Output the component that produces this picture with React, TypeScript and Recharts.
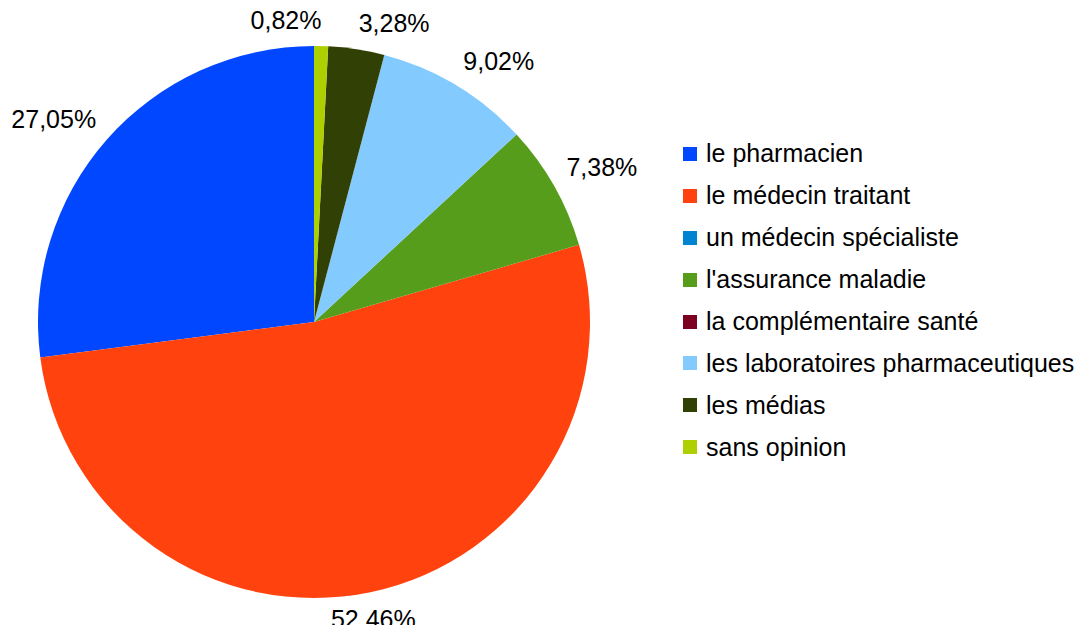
import React from "react";
import { PieChart, Pie, Cell, Legend } from "recharts";

const categories = [
  "le pharmacien",
  "le médecin traitant",
  "un médecin spécialiste",
  "l'assurance maladie",
  "la complémentaire santé",
  "les laboratoires pharmaceutiques",
  "les médias",
  "sans opinion",
];
const counts = [33, 64, 0, 9, 0, 11, 4, 1];
const colors = [
  "#0047ff",
  "#ff420e",
  "#0084d1",
  "#579d1c",
  "#7e0021",
  "#83caff",
  "#314004",
  "#aecf00",
];

const data = categories.map((name, i) => ({ name, value: counts[i] }));
const FONT = "'Liberation Sans', Arial, sans-serif";
const RAD = Math.PI / 180;

const renderLabel = (props: any) => {
  const { cx, cy, midAngle, outerRadius, percent, value, index } = props;
  if (!value) return null;
  const r = outerRadius + 14;
  const c = Math.cos(midAngle * RAD);
  const s = Math.sin(midAngle * RAD);
  const x = cx + r * c;
  const y = cy - r * s;
  const txt = (percent * 100).toFixed(2).replace(".", ",") + "%";
  let anchor: "start" | "middle" | "end" = c >= 0 ? "start" : "end";
  let ty = y - 3;
  if (s < -0.9) {
    anchor = "middle";
    ty = y + 22;
  }
  // tiny slice next to the top: push it to the left to avoid overlapping its neighbour
  if (percent < 0.02 && s > 0.95) anchor = "end";
  return (
    <text
      key={`lbl-${index}`}
      x={x}
      y={ty}
      textAnchor={anchor}
      fill="#000"
      fontSize={25}
      fontFamily={FONT}
    >
      {txt}
    </text>
  );
};

const renderLegend = () => (
  <div style={{ fontFamily: FONT, fontSize: 25, color: "#000" }}>
    {categories.map((name, i) => (
      <div
        key={name}
        style={{ display: "flex", alignItems: "center", height: 41.9, whiteSpace: "nowrap" }}
      >
        <span
          style={{
            display: "inline-block",
            width: 14,
            height: 14,
            background: colors[i],
            marginRight: 9,
          }}
        />
        <span>{name}</span>
      </div>
    ))}
  </div>
);

export default function App() {
  return (
    <div style={{ marginTop: -8, marginBottom: -8 }}>
      <PieChart width={1074} height={633} margin={{ top: 0, right: 0, bottom: 0, left: 0 }}>
        <Pie
          data={data}
          dataKey="value"
          nameKey="name"
          cx={306}
          cy={322}
          outerRadius={276}
          startAngle={90}
          endAngle={450}
          stroke="none"
          label={renderLabel}
          labelLine={false}
          isAnimationActive={false}
        >
          {data.map((d, i) => (
            <Cell key={d.name} fill={colors[i]} />
          ))}
        </Pie>
        <Legend
          layout="vertical"
          align="right"
          verticalAlign="top"
          content={renderLegend}
          wrapperStyle={{ left: 675, top: 133, width: 400 }}
        />
      </PieChart>
    </div>
  );
}
